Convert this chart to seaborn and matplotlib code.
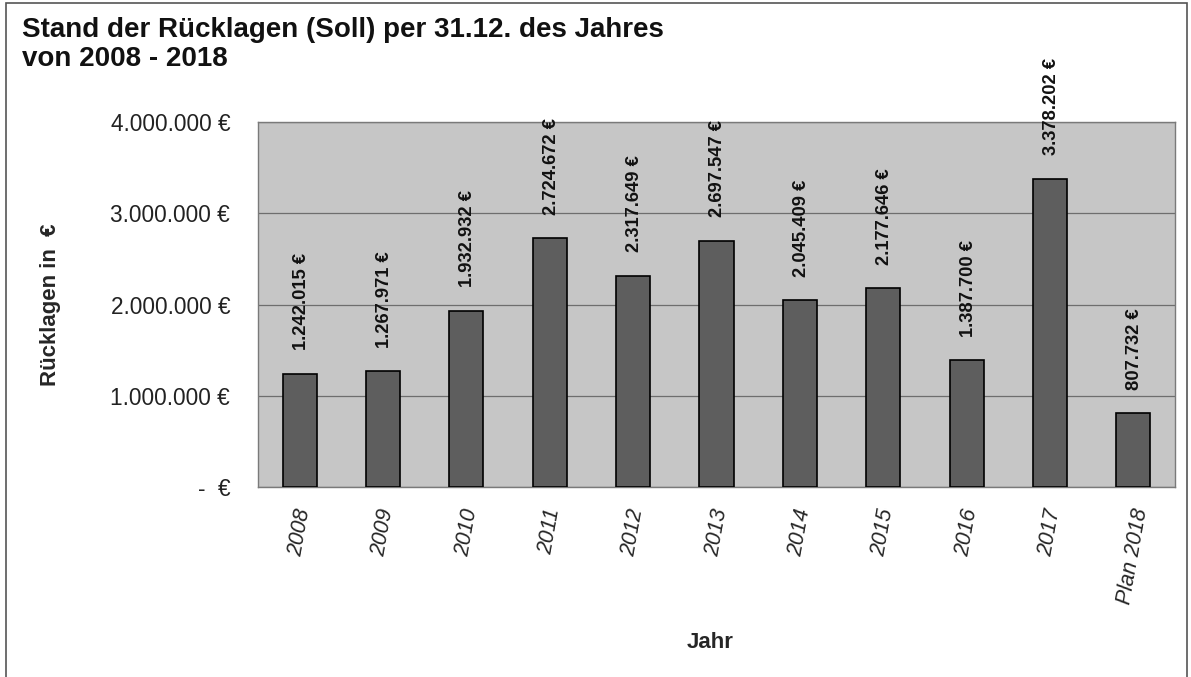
import numpy as np
import pandas as pd
import matplotlib
matplotlib.use('Agg')
import matplotlib.pyplot as plt
import seaborn as sns
from matplotlib.ticker import FixedLocator, FuncFormatter
from matplotlib.patches import Rectangle

# Data
years = ['2008', '2009', '2010', '2011', '2012', '2013', '2014', '2015', '2016', '2017', 'Plan 2018']
ruecklagen = [1242015, 1267971, 1932932, 2724672, 2317649, 2697547, 2045409, 2177646, 1387700, 3378202, 807732]
yticks = [0, 1000000, 2000000, 3000000, 4000000]

df = pd.DataFrame({'Jahr': years, 'Ruecklagen': ruecklagen})

sns.set_style('white')
plt.rcParams['font.family'] = ['Liberation Sans', 'DejaVu Sans']

def euro(v):
    if v == 0:
        return '-  €'
    return f'{int(v):,}'.replace(',', '.') + ' €'

fig = plt.figure(figsize=(11.91, 6.77), dpi=100)
ax = fig.add_axes([0.2166, 0.2806, 0.77, 0.5392])
ax.set_facecolor('#c6c6c6')

sns.barplot(data=df, x='Jahr', y='Ruecklagen', color='#5e5e5e', saturation=1,
            edgecolor='black', linewidth=1.2, width=0.41, ax=ax, zorder=3)

ax.set_ylim(0, 4000000)
ax.set_xlim(-0.5, len(years) - 0.5)
ax.yaxis.set_major_locator(FixedLocator(yticks))
ax.yaxis.set_major_formatter(FuncFormatter(lambda v, p: euro(v)))
ax.grid(axis='y', color='#6e6e6e', linewidth=0.9, zorder=1)
ax.set_axisbelow(True)

for s in ax.spines.values():
    s.set_color('#7a7a7a')
    s.set_linewidth(1.0)

# x ticks between categories, labels at categories
ax.set_xticks(np.arange(len(years)))
ax.set_xticklabels(years, rotation=80, fontsize=15.5, style='italic', ha='center', va='top')
ax.set_xticks(np.arange(-0.5, len(years)), minor=True)
ax.tick_params(axis='x', which='major', length=0, pad=14)
ax.tick_params(axis='x', which='minor', length=6, color='#7a7a7a', direction='out')
ax.tick_params(axis='y', length=6, color='#7a7a7a', direction='out', labelsize=16.3, pad=14)
for lbl in ax.get_yticklabels():
    lbl.set_color('#222222')

# data labels
for i, v in enumerate(ruecklagen):
    ax.annotate(euro(v), (i, v), xytext=(1, 17), textcoords='offset points',
                rotation=90, ha='center', va='bottom', fontsize=13.2,
                fontweight='bold', color='#111111', annotation_clip=False)

ax.set_xlabel('Jahr', fontsize=16, fontweight='bold')
ax.set_ylabel('Rücklagen in  €', fontsize=16, fontweight='bold')
ax.xaxis.set_label_coords(0.493, -0.397)
ax.yaxis.set_label_coords(-0.2144, 0.5)

fig.text(0.0185, 0.975, 'Stand der Rücklagen (Soll) per 31.12. des Jahres\nvon 2008 - 2018',
         fontsize=20, fontweight='bold', ha='left', va='top', linespacing=1.15, color='#111111')

fig.patches.append(Rectangle((0.005, -0.01), 0.992, 1.006, transform=fig.transFigure,
                             fill=False, edgecolor='#555555', linewidth=1.2))

fig.savefig('out.png', dpi=100)
